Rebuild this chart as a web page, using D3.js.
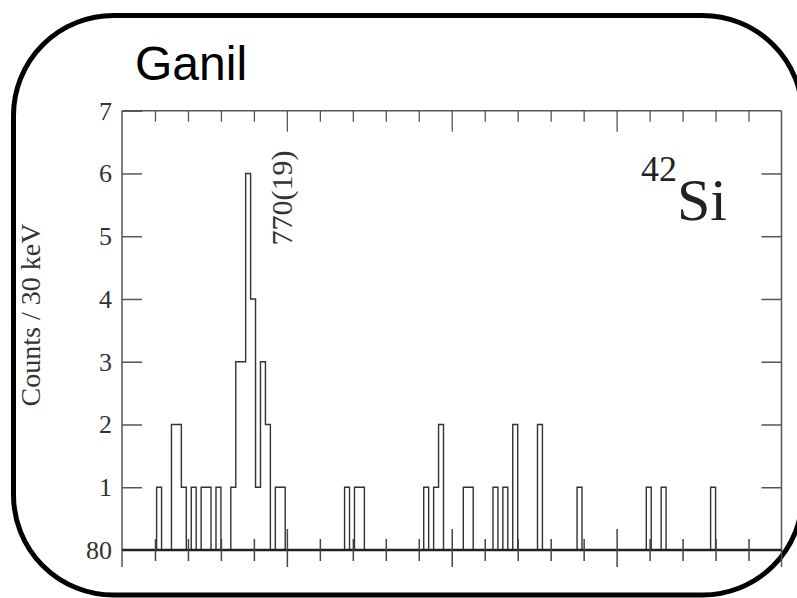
<!DOCTYPE html>
<html><head><meta charset="utf-8">
<script src="https://cdn.jsdelivr.net/npm/d3@7"></script>
<style>html,body{margin:0;padding:0;background:#fff;}svg{display:block;}</style>
</head><body>
<script>
// ---- data ----
const binWidth = 30; // keV
const binStarts = [210, 300, 330, 360, 420, 480, 510, 570, 660, 690, 720, 750, 780, 810, 840, 870, 930, 960,
  1350, 1410, 1440, 1830, 1890, 1920, 2070, 2100, 2250, 2310, 2370, 2520, 2760, 3180, 3270, 3570];
const binCounts = [1, 2, 2, 1, 1, 1, 1, 1, 1, 3, 3, 6, 4, 1, 3, 2, 1, 1,
  1, 1, 1, 1, 1, 2, 1, 1, 1, 1, 2, 2, 1, 1, 1, 1];
const yTickValues = [0, 1, 2, 3, 4, 5, 6, 7];
const yTickLabels = ["80", "1", "2", "3", "4", "5", "6", "7"];
const xDomain = [0, 4000];
const xMajorTicks = [0, 1000, 2000, 3000, 4000];
const xMinorTicks = d3.range(200, 4000, 200).filter(v => v % 1000 !== 0);
const title = "Ganil";
const yLabel = "Counts / 30 keV";
const peakLabel = "770(19)";

const W = 797, H = 598;
const svg = d3.select("body").append("svg").attr("width", W).attr("height", H);

// rounded frame
svg.append("rect").attr("x", 13.5).attr("y", 15.5).attr("width", 789).attr("height", 579.5)
  .attr("rx", 100).attr("ry", 100).attr("fill", "none").attr("stroke", "#000").attr("stroke-width", 5);

svg.append("text").attr("x", 135).attr("y", 80).text(title)
  .attr("font-family", "Liberation Sans").attr("font-size", 48).attr("fill", "#000");

const L = 122, R = 781.5, T = 110.7, B = 550;
const x = d3.scaleLinear().domain(xDomain).range([L, R]);
const y = d3.scaleLinear().domain([0, 7]).range([B, T]);

const frameCol = "#555";
const serif = "Liberation Serif";

// frame lines
svg.append("line").attr("x1", L).attr("x2", L).attr("y1", T).attr("y2", 567).attr("stroke", frameCol).attr("stroke-width", 1.5);
svg.append("line").attr("x1", R).attr("x2", R).attr("y1", T).attr("y2", 567).attr("stroke", frameCol).attr("stroke-width", 1.5);
svg.append("line").attr("x1", L).attr("x2", R).attr("y1", T).attr("y2", T).attr("stroke", frameCol).attr("stroke-width", 1.5);

function styleAxis(g, col, w) {
  g.select(".domain").remove();
  g.selectAll(".tick line").attr("stroke", col).attr("stroke-width", w);
}

// top ticks (inside)
svg.append("g").attr("transform", `translate(0,${T})`)
  .call(d3.axisBottom(x).tickValues(xMinorTicks).tickSize(11).tickFormat(""))
  .call(g => styleAxis(g, frameCol, 1.3));
svg.append("g").attr("transform", `translate(0,${T})`)
  .call(d3.axisBottom(x).tickValues(xMajorTicks.slice(1, -1)).tickSize(21).tickFormat(""))
  .call(g => styleAxis(g, frameCol, 1.3));

// left y axis
svg.append("g").attr("transform", `translate(${L},0)`)
  .call(d3.axisLeft(y).tickValues(yTickValues.slice(1)).tickSizeInner(-20).tickSizeOuter(0).tickPadding(10)
    .tickFormat((d) => yTickLabels[yTickValues.indexOf(d)]))
  .call(g => { styleAxis(g, frameCol, 1.5);
    g.selectAll("text").attr("font-family", serif).attr("font-size", 26).attr("fill", "#333"); });
svg.append("g").attr("transform", `translate(${L},0)`)
  .call(d3.axisLeft(y).tickValues([0]).tickSize(0).tickPadding(10)
    .tickFormat((d) => yTickLabels[yTickValues.indexOf(d)]))
  .call(g => { styleAxis(g, frameCol, 1.5);
    g.selectAll("text").attr("font-family", serif).attr("font-size", 26).attr("fill", "#333"); });

// right y axis
svg.append("g").attr("transform", `translate(${R},0)`)
  .call(d3.axisRight(y).tickValues(yTickValues.slice(1, -1)).tickSizeInner(-20).tickSizeOuter(0).tickFormat(""))
  .call(g => styleAxis(g, frameCol, 1.5));

// histogram
const countMap = new Map(binStarts.map((s, i) => [s, binCounts[i]]));
const pts = [];
for (let e = xDomain[0]; e < xDomain[1]; e += binWidth) {
  const c = countMap.get(e) || 0;
  pts.push([e, c], [Math.min(e + binWidth, xDomain[1]), c]);
}
svg.append("path").datum(pts)
  .attr("d", d3.line().x(d => x(d[0])).y(d => y(d[1])))
  .attr("fill", "none").attr("stroke", "#333").attr("stroke-width", 1.4);

// bottom axis line and ticks (both sides)
svg.append("line").attr("x1", L).attr("x2", R).attr("y1", B).attr("y2", B).attr("stroke", "#222").attr("stroke-width", 2.5);
[[d3.axisBottom, 11, xMinorTicks], [d3.axisTop, 11, xMinorTicks], [d3.axisBottom, 17, xMajorTicks.slice(1, -1)], [d3.axisTop, 21, xMajorTicks.slice(1, -1)]]
  .forEach(([ax, s, v]) => {
    svg.append("g").attr("transform", `translate(0,${B})`)
      .call(ax(x).tickValues(v).tickSize(s).tickFormat(""))
      .call(g => styleAxis(g, "#444", 1.5));
  });

// labels
svg.append("text").attr("transform", "translate(40,315) rotate(-90)").attr("text-anchor", "middle")
  .attr("font-family", serif).attr("font-size", 28).attr("fill", "#333").text(yLabel);
svg.append("text").attr("transform", "translate(292,198) rotate(-90)").attr("text-anchor", "middle")
  .attr("font-family", serif).attr("font-size", 30).attr("fill", "#333").text(peakLabel);

const iso = svg.append("text").attr("font-family", serif).attr("fill", "#222");
iso.append("tspan").attr("x", 641).attr("y", 181).attr("font-size", 36).text("42");
iso.append("tspan").attr("y", 220).attr("font-size", 60).text("Si");
</script>
</body></html>
